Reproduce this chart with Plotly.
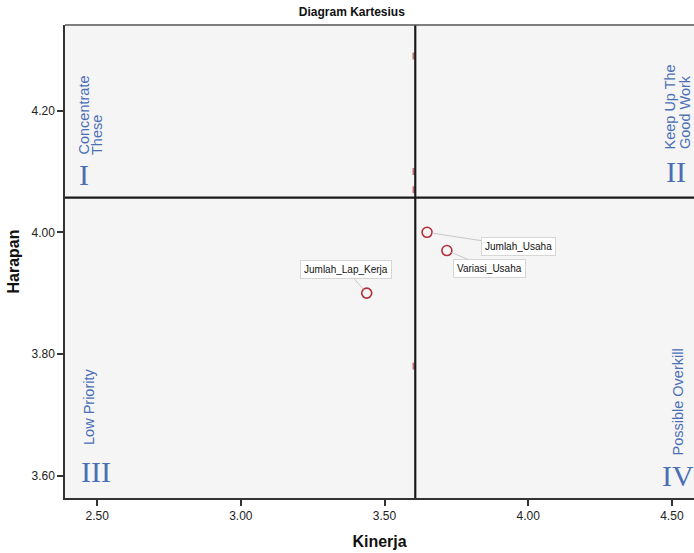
import plotly.graph_objects as go

# ---- data ----
names = ["Jumlah_Lap_Kerja", "Jumlah_Usaha", "Variasi_Usaha"]
kinerja = [3.438, 3.648, 3.717]
harapan = [3.90, 4.00, 3.97]
label_dx = [-21, 91, 43]
label_dy = [-24, 14, 18]

mean_kinerja = 3.607
mean_harapan = 4.057

# faint marks peeking out from behind the vertical reference line
edge_y = [4.29, 4.10, 4.07, 3.78]

x_ticks = [2.5, 3.0, 3.5, 4.0, 4.5]
x_ticklabels = ["2.50", "3.00", "3.50", "4.00", "4.50"]
y_ticks = [3.6, 3.8, 4.0, 4.2]
y_ticklabels = ["3.60", "3.80", "4.00", "4.20"]

quad_lines = ["Concentrate", "These", "Keep Up The", "Good Work", "Low Priority", "Possible Overkill"]
quad_num = ["I", "II", "III", "IV"]

x_range = [2.388, 4.577]
y_range = [3.563, 4.341]

BLUE = "#4A6FB5"
RED = "#B0303A"
NARROW = "Liberation Sans Narrow, Arial Narrow, Liberation Sans, Arial"

fig = go.Figure()

fig.add_trace(go.Scatter(
    x=[mean_kinerja - 0.006] * len(edge_y), y=edge_y, mode="markers",
    marker=dict(symbol="line-ns", size=5, line=dict(color="rgba(176,48,58,0.7)", width=2)),
    hoverinfo="skip", showlegend=False))

fig.add_trace(go.Scatter(
    x=kinerja, y=harapan, mode="markers", text=names,
    marker=dict(symbol="circle-open", size=10, color=RED, line=dict(color=RED, width=1.6)),
    showlegend=False))

# reference lines
fig.add_shape(type="line", xref="x", yref="paper", x0=mean_kinerja, x1=mean_kinerja, y0=0, y1=1,
              line=dict(color="#1a1a1a", width=2.2), layer="above")
fig.add_shape(type="line", xref="paper", yref="y", x0=0, x1=1, y0=mean_harapan, y1=mean_harapan,
              line=dict(color="#1a1a1a", width=2.2), layer="above")
# top border
fig.add_shape(type="line", xref="paper", yref="paper", x0=0, x1=1, y0=1, y1=1,
              line=dict(color="#555555", width=1.5), layer="above")

# point labels
for n, xv, yv, dx, dy in zip(names, kinerja, harapan, label_dx, label_dy):
    fig.add_annotation(x=xv, y=yv, xref="x", yref="y", text=n, showarrow=True,
                       ax=dx, ay=dy, arrowhead=0, arrowwidth=1, arrowcolor="#c8c8c8",
                       standoff=5, bgcolor="white", bordercolor="#d6d6d6", borderwidth=1,
                       borderpad=3, font=dict(family="Liberation Sans, Arial", size=10, color="#111111"))

# quadrant labels (pixel positions converted to paper coords)
W, H = 694, 553
L, R, T, B = 65, 0, 25, 55
pw, ph = W - L - R, H - T - B


def px(xp):
    return (xp - L) / pw


def py(yp):
    return 1 - (yp - T) / ph


# (x centre, bottom y) of each rotated line
line_pos = [(83, 157), (97, 157), (670, 152), (685, 151), (89, 447), (677, 458)]
num_pos = [(84, 174), (676, 172), (96, 471), (678, 475)]
for t, (xp, yp) in zip(quad_lines, line_pos):
    fig.add_annotation(x=px(xp), y=py(yp), xref="paper", yref="paper", text=t, showarrow=False,
                       textangle=-90, xanchor="center", yanchor="bottom",
                       font=dict(family="Liberation Sans, Arial", size=14.5, color=BLUE))
for t, (xp, yp) in zip(quad_num, num_pos):
    fig.add_annotation(x=px(xp), y=py(yp), xref="paper", yref="paper", text=t, showarrow=False,
                       xanchor="center", yanchor="middle",
                       font=dict(family="Liberation Serif, Times New Roman, serif", size=30, color=BLUE))

fig.update_layout(
    width=W, height=H,
    margin=dict(l=L, r=R, t=T, b=B),
    paper_bgcolor="white", plot_bgcolor="#F5F5F5",
    title=dict(text="<b>Diagram Kartesius</b>", x=0.507, xref="container", y=0.978, yref="container",
               xanchor="center", yanchor="middle",
               font=dict(family=NARROW, size=12, color="#111111")),
    xaxis=dict(range=x_range, tickvals=x_ticks, ticktext=x_ticklabels, showgrid=False, zeroline=False,
               showline=True, linecolor="#333333", linewidth=1.5, ticks="outside", ticklen=6,
               tickcolor="#333333", tickwidth=1.5,
               tickfont=dict(family=NARROW, size=12, color="#222222"),
               title=dict(text="<b>Kinerja</b>", standoff=14,
                          font=dict(family=NARROW, size=16, color="#111111"))),
    yaxis=dict(range=y_range, tickvals=y_ticks, ticktext=y_ticklabels, showgrid=False, zeroline=False,
               showline=True, linecolor="#333333", linewidth=1.5, ticks="outside", ticklen=6,
               tickcolor="#333333", tickwidth=1.5,
               tickfont=dict(family=NARROW, size=12, color="#222222"),
               title=dict(text="<b>Harapan</b>", standoff=8,
                          font=dict(family=NARROW, size=16, color="#111111"))),
)

fig.write_html("out.html", config={"displayModeBar": False},
               post_script="document.body.style.margin='0';document.body.style.overflow='hidden';")
